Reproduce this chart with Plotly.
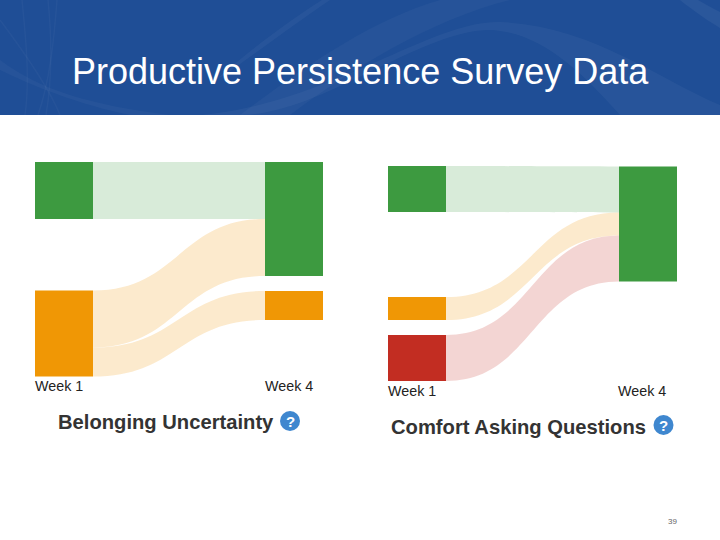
import plotly.graph_objects as go

W, H = 720, 540

# ---- data ----
title_text = "Productive Persistence Survey Data"
page_number = "39"
week_labels = ["Week 1", "Week 4"]

belonging_title = "Belonging Uncertainty"
belonging_nodes = ["Week 1 high", "Week 1 mid", "Week 4 high", "Week 4 mid"]
belonging_sources = [0, 1, 1]
belonging_targets = [2, 2, 3]
belonging_values = [57, 57, 29]

comfort_title = "Comfort Asking Questions"
comfort_nodes = ["Week 1 high", "Week 1 mid", "Week 1 low", "Week 4 high"]
comfort_sources = [0, 1, 2]
comfort_targets = [3, 3, 3]
comfort_values = [46, 23, 46]

# ---- style ----
BLUE = "#1F4E96"
GREEN = "#3D9A40"
ORANGE = "#F09705"
RED = "#C22D22"
L_GREEN = "rgba(61,154,64,0.2)"
L_ORANGE = "rgba(240,151,5,0.2)"
L_RED = "rgba(194,45,34,0.2)"
HELP = "#3F87CF"


def px(x):
    return x / W


def py(y):
    return 1 - y / H


def band(x0, x1, y0, y1):
    return dict(x=[px(x0), px(x1)], y=[py(y1), py(y0)])


def path(d):
    out = []
    for tok in d.split():
        if "," in tok:
            a, b = tok.split(",")
            out.append(f"{px(float(a)):.5f},{py(float(b)):.5f}")
        else:
            out.append(tok)
    return " ".join(out)


fig = go.Figure()

fig.add_trace(go.Sankey(
    domain=band(35, 323, 162, 376),
    arrangement="fixed",
    textfont=dict(size=1, color="rgba(0,0,0,0)"),
    node=dict(
        label=["", "", "", ""],
        customdata=belonging_nodes,
        color=[GREEN, ORANGE, GREEN, ORANGE],
        thickness=58, pad=71, line=dict(width=0),
        x=[29 / 288, 29 / 288, 259 / 288, 259 / 288],
        y=[28.5 / 214, 171.5 / 214, 57 / 214, 143.5 / 214],
        hoverinfo="skip",
    ),
    link=dict(
        source=belonging_sources, target=belonging_targets, value=belonging_values,
        color=[L_GREEN, L_ORANGE, L_ORANGE], line=dict(width=0), hoverinfo="skip",
    ),
))

fig.add_trace(go.Sankey(
    domain=band(388, 677, 166, 381),
    arrangement="fixed",
    textfont=dict(size=1, color="rgba(0,0,0,0)"),
    node=dict(
        label=["", "", "", ""],
        customdata=comfort_nodes,
        color=[GREEN, ORANGE, RED, GREEN],
        thickness=58, pad=50, line=dict(width=0),
        x=[29 / 289, 29 / 289, 29 / 289, 260 / 289],
        y=[23 / 215, 142.5 / 215, 192 / 215, 58 / 215],
        hoverinfo="skip",
    ),
    link=dict(
        source=comfort_sources, target=comfort_targets, value=comfort_values,
        color=[L_GREEN, L_ORANGE, L_RED], line=dict(width=0), hoverinfo="skip",
    ),
))

shapes = [
    dict(type="rect", xref="paper", yref="paper", x0=0, x1=1, y0=py(115), y1=1,
         fillcolor=BLUE, line=dict(width=0), layer="below"),
]
# faint swooshes in the header
for d, col in [
    ("M 240,115 C 300,70 370,20 440,0 L 510,0 C 430,20 350,70 290,115 Z", "rgba(255,255,255,0.03)"),
    ("M 225,75 C 260,50 300,20 330,0 L 322,0 C 290,20 250,50 218,78 Z", "rgba(255,255,255,0.04)"),
    ("M 140,115 C 300,130 420,20 500,22 C 590,25 660,80 720,105 L 720,115 L 620,115 C 580,70 540,32 490,30 C 420,30 320,115 240,115 Z", "rgba(255,255,255,0.04)"),
    ("M 0,60 C 40,90 90,105 170,115 L 130,115 C 80,105 30,85 0,70 Z", "rgba(255,255,255,0.03)"),
    ("M 680,0 C 695,12 710,22 720,28 L 720,12 C 712,8 705,4 698,0 Z", "rgba(255,255,255,0.05)"),
]:
    shapes.append(dict(type="path", xref="paper", yref="paper", path=path(d),
                       fillcolor=col, line=dict(width=0), layer="below"))
for d in ["M 22,0 C 26,40 30,80 25,115", "M 48,0 C 52,40 52,80 46,115", "M 57,0 C 54,40 50,80 38,115",
          "M 0,20 C 30,60 50,90 60,115"]:
    shapes.append(dict(type="path", xref="paper", yref="paper", path=path(d),
                       line=dict(color="rgba(255,255,255,0.03)", width=1.5), layer="below"))
for cx, cy in [(290, 421), (663.5, 425)]:
    shapes.append(dict(type="circle", xref="paper", yref="paper",
                       x0=px(cx - 10), x1=px(cx + 10), y0=py(cy + 10), y1=py(cy - 10),
                       fillcolor=HELP, line=dict(width=0)))


def label(x, y, text, size, color, bold=False, anchor="left"):
    return dict(xref="paper", yref="paper", x=px(x), y=py(y), text=f"<b>{text}</b>" if bold else text,
                showarrow=False, xanchor=anchor, yanchor="middle", borderpad=0,
                font=dict(family="Liberation Sans", size=size, color=color))


annotations = [
    label(71, 71, title_text, 36, "#FFFFFF"),
    label(34, 386, week_labels[0], 14.3, "#222222"),
    label(264, 386, week_labels[1], 14.3, "#222222"),
    label(387, 391, week_labels[0], 14.3, "#222222"),
    label(617, 391, week_labels[1], 14.3, "#222222"),
    label(57, 422, belonging_title, 20.2, "#333333", True),
    label(390, 427, comfort_title, 20.2, "#333333", True),
    label(290, 421, "?", 15, "#FFFFFF", True, "center"),
    label(663.5, 425, "?", 15, "#FFFFFF", True, "center"),
    label(672, 521, page_number, 8, "#666666", False, "center"),
]

fig.update_layout(
    width=W, height=H, margin=dict(l=0, r=0, t=0, b=0),
    paper_bgcolor="#FFFFFF", plot_bgcolor="#FFFFFF",
    shapes=shapes, annotations=annotations, showlegend=False,
)

fig.write_html("out.html", config=dict(displayModeBar=False),
               post_script="document.body.style.margin='0';document.body.style.overflow='hidden';")
